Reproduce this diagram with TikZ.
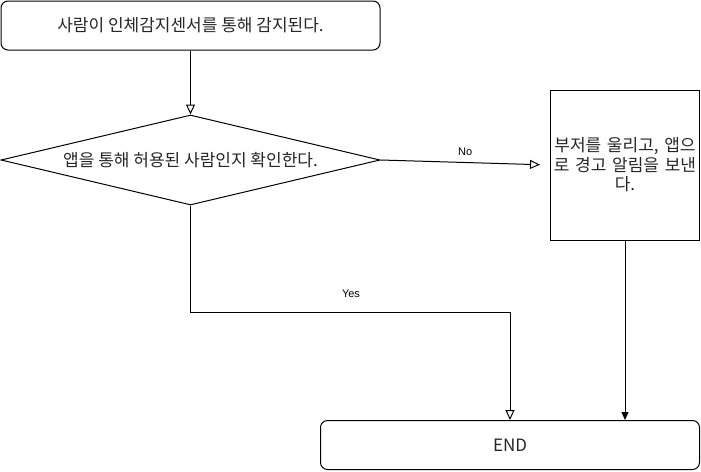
\documentclass[tikz,border=0pt]{standalone}
\usepackage{fontspec}
\setmainfont{Noto Sans CJK KR}
\newfontfamily\labelfont{Liberation Sans}
\usetikzlibrary{arrows.meta,shapes.geometric}
\begin{document}
\begin{tikzpicture}[x=1pt,y=-1pt,
  every node/.style={font=\fontsize{17}{19.5}\selectfont, text=black!85},
  procbox/.style={draw, line width=1pt, rounded corners=7pt, minimum width=379pt, minimum height=49pt, inner sep=0pt},
  plainbox/.style={draw, line width=1pt, minimum width=149pt, minimum height=150pt, inner sep=0pt, align=center, text width=149pt},
  decbox/.style={draw, diamond, line width=1pt, minimum width=379pt, minimum height=90pt, inner sep=0pt},
  conn/.style={line width=1pt},
  openarr/.style={conn, -{Triangle[open, length=10pt, width=9pt]}},
  fillarr/.style={conn, -{Triangle[length=8pt, width=7pt]}},
  lbl/.style={font=\labelfont\fontsize{11}{13}\selectfont, text=black}
]
\useasboundingbox (0,0) rectangle (701,471);
\node[procbox] (start) at (190.5,25.5) {};
\node at (start) {사람이 인체감지센서를 통해 감지된다.};
\node[decbox] (dec) at (190.5,160) {};
\node at (dec) {앱을 통해 허용된 사람인지 확인한다.};
\node[plainbox] (alert) at (625,165) {부저를 울리고, 앱으\\로 경고 알림을 보낸\\다.};
\node[procbox] (end) at (510,445) {};
\node at (end) {END};
\coordinate (yesbend) at (190.5,312.5);
\draw[openarr] (start.south) -- (dec.north);
\draw[openarr, shorten >=10pt] (dec.east) -- node[lbl, above=3pt] (nolbl) {No} (alert.west);
\draw[openarr] (dec.south) -- (yesbend) -| (end.north);
\node[lbl] (yeslbl) at (351,294) {Yes};
\draw[fillarr] (alert.south) -- (alert.south |- end.north);
\end{tikzpicture}
\end{document}
